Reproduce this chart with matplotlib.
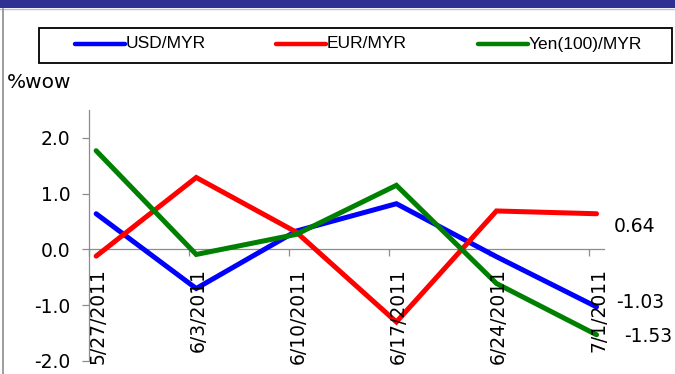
import matplotlib
matplotlib.use("Agg")
import matplotlib.pyplot as plt
import numpy as np
import pandas as pd
from matplotlib.lines import Line2D
from matplotlib.patches import Rectangle

# Weekly % change of ringgit crosses
dates = ["5/27/2011", "6/3/2011", "6/10/2011", "6/17/2011", "6/24/2011", "7/1/2011"]
series_names = ["USD/MYR", "EUR/MYR", "Yen(100)/MYR"]
usd_myr = [0.64, -0.70, 0.33, 0.82, -0.13, -1.03]
eur_myr = [-0.12, 1.29, 0.31, -1.30, 0.69, 0.64]
yen_myr = [1.77, -0.09, 0.27, 1.15, -0.61, -1.53]
y_ticks = [-2.0, -1.0, 0.0, 1.0, 2.0]
end_labels = ["0.64", "-1.03", "-1.53"]

colors = ["#0000FF", "#FF0000", "#008000"]
series = [usd_myr, eur_myr, yen_myr]

W, H = 675, 374
fig = plt.figure(figsize=(W / 100, H / 100), dpi=100)
fig.patch.set_facecolor("white")


def fx(px):
    return px / W


def fy(py):
    return 1 - py / H


# header band and frame line
fig.patches.append(Rectangle((0, fy(8)), 1, 8 / H, transform=fig.transFigure,
                             facecolor="#2E3192", edgecolor="none"))
fig.add_artist(Line2D([0, 1], [fy(8.5), fy(8.5)], transform=fig.transFigure,
                      color="#B8C0E4", lw=1))
fig.add_artist(Line2D([fx(3), fx(3)], [fy(9), 0], transform=fig.transFigure,
                      color="#8C8C8C", lw=1.2))

# legend box
fig.patches.append(Rectangle((fx(38.5), fy(63)), fx(672) - fx(38.5), fy(28) - fy(63),
                             transform=fig.transFigure, facecolor="white",
                             edgecolor="black", lw=1.3))
leg_x = [75, 276, 478]
for lx, name, c in zip(leg_x, series_names, colors):
    fig.add_artist(Line2D([fx(lx), fx(lx + 50)], [fy(43.5), fy(43.5)],
                          transform=fig.transFigure, color=c, lw=3.2,
                          solid_capstyle="round"))
    fig.text(fx(lx + 51), fy(44), name, fontsize=12.5, family="Liberation Sans",
             ha="left", va="center")

fig.text(fx(7), fy(82), "%wow", fontsize=14.5, family="DejaVu Sans",
         ha="left", va="center")

# plot area
ax = fig.add_axes([fx(89), fy(361), fx(603.7) - fx(89), fy(110) - fy(361)])
dt = pd.to_datetime(dates, format="%m/%d/%Y")
x = np.asarray((dt - dt[0]).days, dtype=float)

for vals, c in zip(series, colors):
    ax.plot(x, vals, color=c, lw=3.6, solid_joinstyle="miter",
            solid_capstyle="round", zorder=3)

ax.set_xlim(x[0] - 0.5, x[-1] + 0.5)
ax.set_ylim(-2.0, 2.5)

for s in ["top", "right"]:
    ax.spines[s].set_visible(False)
ax.spines["left"].set_color("#8C8C8C")
ax.spines["left"].set_linewidth(0.9)
ax.spines["left"].set_bounds(-2.0, 2.5)
ax.spines["bottom"].set_position(("data", 0))
ax.spines["bottom"].set_color("#8C8C8C")
ax.spines["bottom"].set_linewidth(0.9)

ax.set_yticks(y_ticks)
ax.set_yticklabels([f"{v:.1f}" for v in y_ticks])
ax.tick_params(axis="y", length=5, width=0.9, color="#8C8C8C", pad=8.5,
               labelsize=13.5)
for lbl in ax.get_yticklabels():
    lbl.set_family("DejaVu Sans")

ax.set_xticks(x - 0.5)
ax.set_xticklabels([])
ax.tick_params(axis="x", length=5, width=0.9, color="#8C8C8C", direction="out")

# rotated date labels under the zero line
for xi, d in zip(x, dates):
    ax.annotate(d, xy=(xi, 0), xytext=(1.5, -13.5), textcoords="offset points",
                rotation=90, ha="center", va="top", fontsize=13.5,
                family="DejaVu Sans", annotation_clip=False, zorder=5)

# last-point value labels
offsets = [(12.5, -9.5), (14, 3), (19.5, -1.3)]
last_vals = [eur_myr[-1], usd_myr[-1], yen_myr[-1]]
for txt, v, off in zip(end_labels, last_vals, offsets):
    ax.annotate(txt, xy=(x[-1], v), xytext=off, textcoords="offset points",
                ha="left", va="center", fontsize=13.5, family="DejaVu Sans",
                annotation_clip=False)

fig.savefig("out.png", dpi=100)
